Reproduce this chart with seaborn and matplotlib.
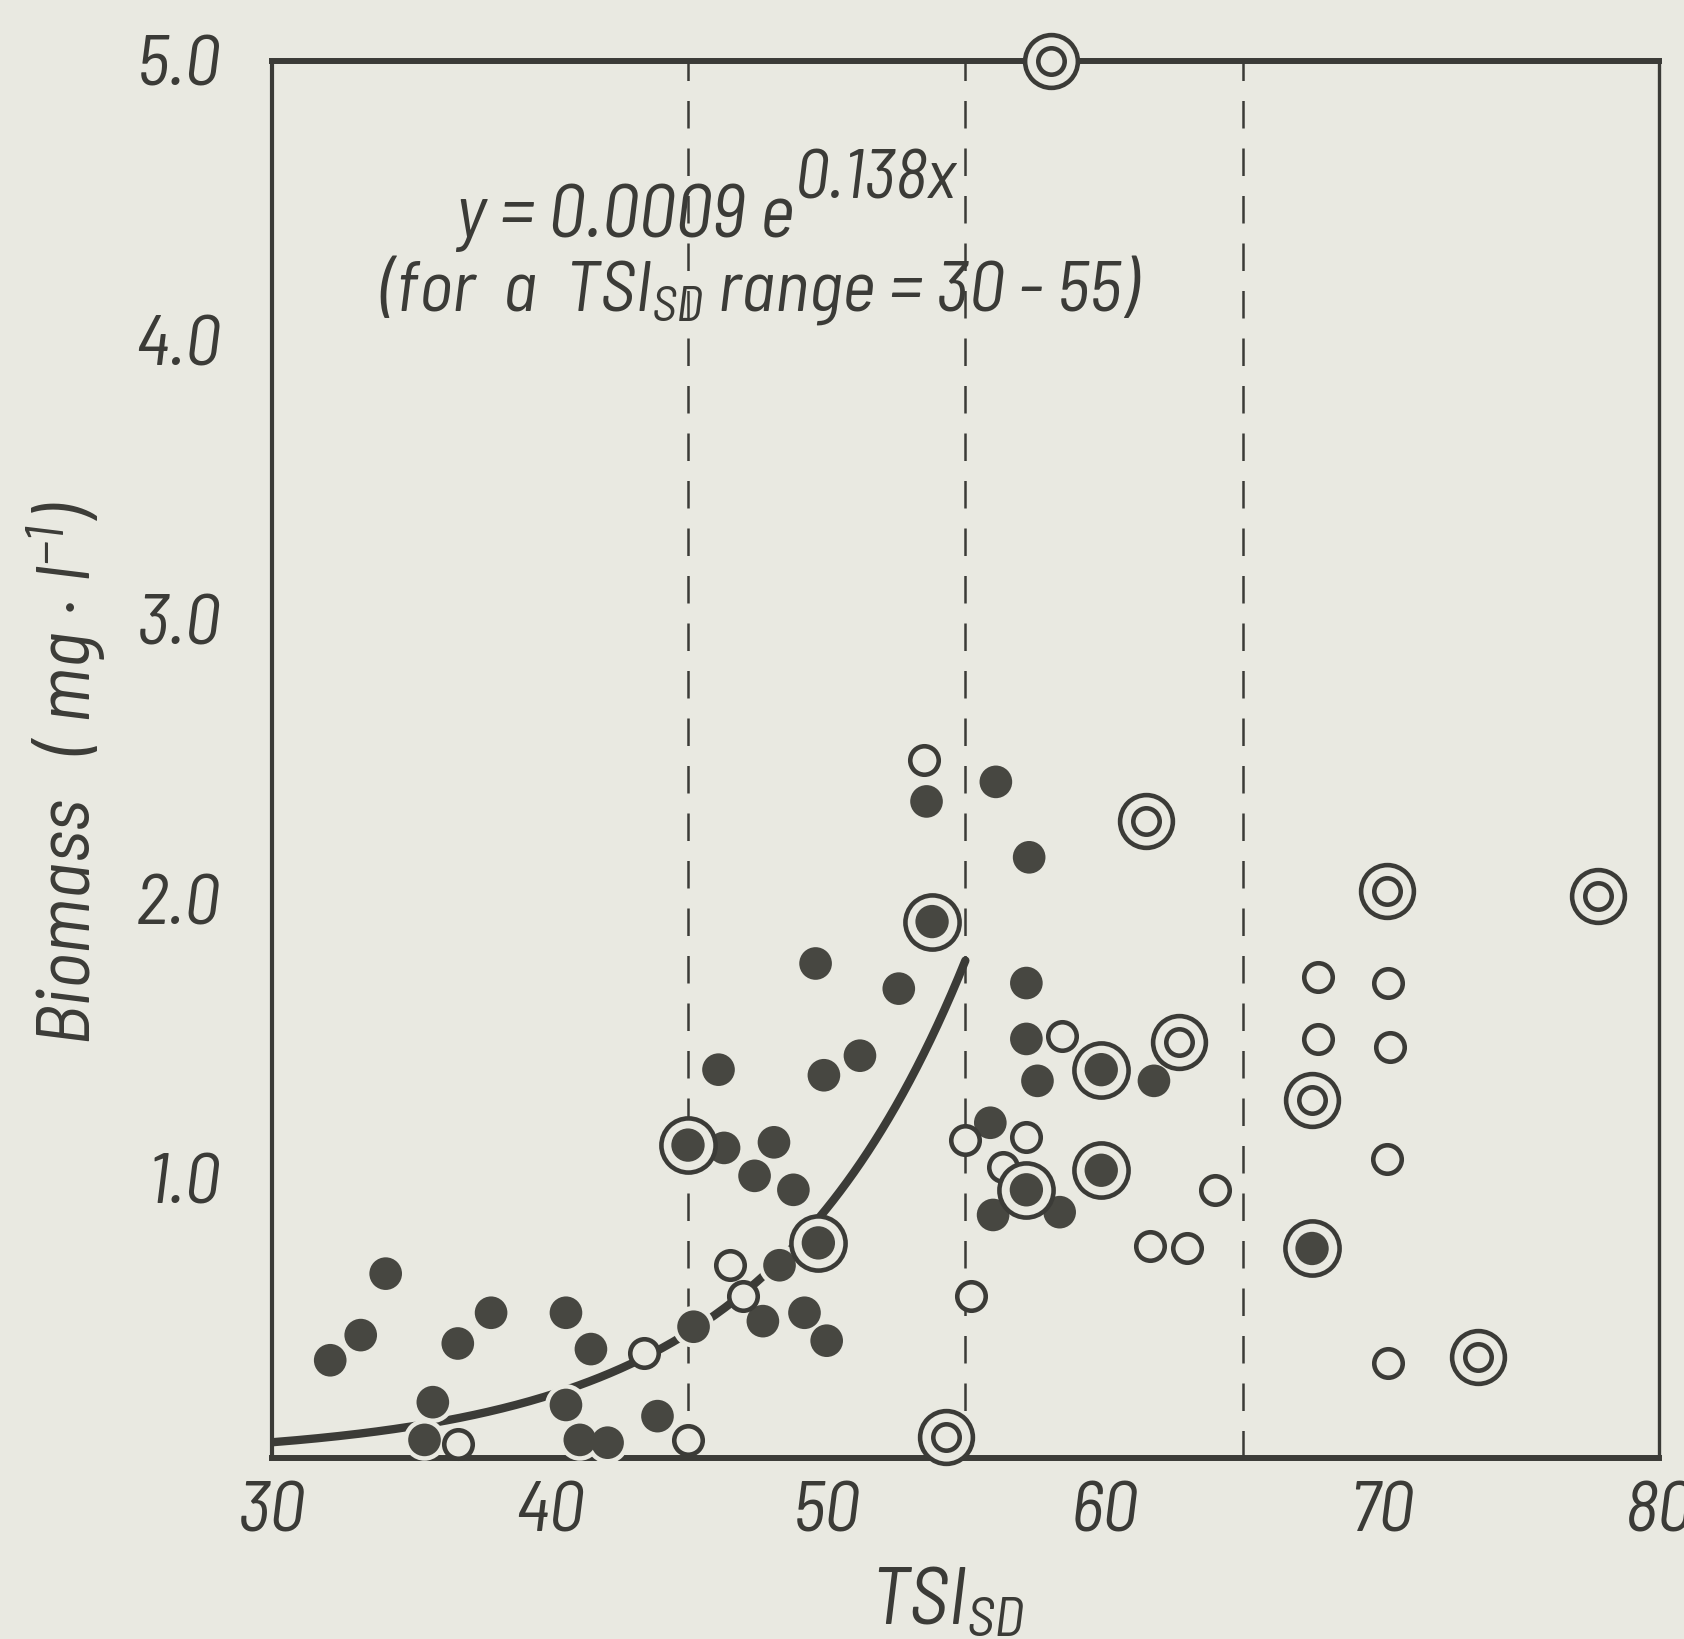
import numpy as np
import pandas as pd
import matplotlib
matplotlib.use("Agg")
import matplotlib.pyplot as plt
import seaborn as sns
from matplotlib import font_manager

# ---------------- data ----------------
filled_x = [32.1, 33.2, 34.1, 35.8, 35.5, 36.7, 37.9, 40.6, 40.6, 41.5, 41.1, 42.1, 43.9,
            45.2, 46.1, 46.3, 47.4, 48.1, 48.8, 47.7, 48.3, 49.2, 50.0, 49.6, 49.9, 51.2,
            52.6, 53.6, 56.1, 57.3, 57.2, 57.2, 57.6, 55.9, 56.0, 58.4, 61.8]
filled_y = [0.35, 0.44, 0.66, 0.20, 0.065, 0.41, 0.52, 0.52, 0.19, 0.39, 0.065, 0.055, 0.15,
            0.47, 1.39, 1.11, 1.01, 1.13, 0.96, 0.49, 0.69, 0.52, 0.42, 1.77, 1.37, 1.44,
            1.68, 2.35, 2.42, 2.15, 1.70, 1.50, 1.35, 1.20, 0.87, 0.88, 1.35]

open_x = [36.7, 43.4, 45.0, 46.5, 47.0, 53.5, 55.0, 55.2, 56.35, 57.2, 58.5, 61.65,
          63.0, 64.0, 67.7, 67.7, 70.25, 70.3, 70.2, 70.25]
open_y = [0.05, 0.375, 0.065, 0.69, 0.58, 2.50, 1.14, 0.58, 1.04, 1.15, 1.51, 0.76,
          0.75, 0.96, 1.72, 1.50, 1.70, 1.47, 1.07, 0.34]

double_open_x = [58.1, 54.3, 61.5, 62.7, 67.5, 70.2, 77.8, 73.5]
double_open_y = [5.0, 0.075, 2.28, 1.49, 1.28, 2.03, 2.01, 0.36]

double_filled_x = [45.0, 49.7, 53.8, 57.2, 59.9, 59.9, 67.5]
double_filled_y = [1.12, 0.77, 1.92, 0.96, 1.39, 1.03, 0.75]

# fitted curve y = a * exp(b x), valid for TSI 30-55
fit_a = 0.0009
fit_b = 0.138
fit_range = (30, 55)

divider_x = [45, 55, 65]

x_ticks = [30, 40, 50, 60, 70, 80]
x_ticklabels = ["30", "40", "50", "60", "70", "80"]
y_ticks = [1, 2, 3, 4, 5]
y_ticklabels = ["1.0", "2.0", "3.0", "4.0", "5.0"]

# ---------------- style ----------------
PAPER = "#e9e9e1"
INK = "#3b3b37"
DOT = "#474741"

sns.set_theme(style="white")
italic_fams = {f.name for f in font_manager.fontManager.ttflist if f.style == "italic"}
FONT = "DejaVu Sans"
for cand in ["Barlow Semi Condensed", "Roboto Condensed", "Archivo Narrow", "PT Sans Narrow",
             "Barlow Condensed", "Saira Condensed", "Liberation Sans Narrow"]:
    if cand in italic_fams:
        FONT = cand
        break
plt.rcParams["font.family"] = [FONT, "DejaVu Sans"]
plt.rcParams["mathtext.fontset"] = "custom"
plt.rcParams["mathtext.rm"] = FONT + ":italic"
plt.rcParams["mathtext.it"] = FONT + ":italic"
plt.rcParams["mathtext.bf"] = FONT + ":italic"

fig = plt.figure(figsize=(16.84, 16.39), dpi=100, facecolor=PAPER)
ax = fig.add_axes([0.1615, 0.1104, 0.8235, 0.8524])
ax.set_facecolor(PAPER)

# dashed dividers
for xv in divider_x:
    ax.axvline(xv, color=INK, lw=1.8, ls=(0, (11, 8)), zorder=1)

# fitted curve
cx = np.linspace(fit_range[0], fit_range[1], 200)
curve = pd.DataFrame({"x": cx, "y": fit_a * np.exp(fit_b * cx)})
sns.lineplot(data=curve, x="x", y="y", ax=ax, color=INK, linewidth=6.0, zorder=2)

df_f = pd.DataFrame({"x": filled_x, "y": filled_y})
df_o = pd.DataFrame({"x": open_x, "y": open_y})
df_do = pd.DataFrame({"x": double_open_x, "y": double_open_y})
df_df = pd.DataFrame({"x": double_filled_x, "y": double_filled_y})

# white halos for filled dots
sns.scatterplot(data=df_f, x="x", y="y", ax=ax, s=30**2, color=PAPER,
                edgecolor="none", linewidth=0, zorder=3, clip_on=False)
sns.scatterplot(data=df_f, x="x", y="y", ax=ax, s=23.5**2, color=DOT,
                edgecolor="none", linewidth=0, zorder=4, clip_on=False)

# open circles
sns.scatterplot(data=df_o, x="x", y="y", ax=ax, s=20.5**2, color=PAPER,
                edgecolor=INK, linewidth=3.3, zorder=5, clip_on=False)

# double open circles
sns.scatterplot(data=df_do, x="x", y="y", ax=ax, s=38**2, color=PAPER,
                edgecolor=INK, linewidth=3.3, zorder=5, clip_on=False)
sns.scatterplot(data=df_do, x="x", y="y", ax=ax, s=19**2, color=PAPER,
                edgecolor=INK, linewidth=3.3, zorder=6, clip_on=False)

# double circles with filled centre
sns.scatterplot(data=df_df, x="x", y="y", ax=ax, s=39**2, color=PAPER,
                edgecolor=INK, linewidth=3.3, zorder=5, clip_on=False)
sns.scatterplot(data=df_df, x="x", y="y", ax=ax, s=24**2, color=DOT,
                edgecolor="none", linewidth=0, zorder=6, clip_on=False)

ax.set_xlim(30, 80)
ax.set_ylim(0, 5)
ax.set_xticks(x_ticks)
ax.set_xticklabels(x_ticklabels)
ax.set_yticks(y_ticks)
ax.set_yticklabels(y_ticklabels)
ax.tick_params(axis="both", direction="out", length=17, width=2.4, color=INK,
               labelcolor=INK, labelsize=52)
ax.tick_params(axis="x", pad=0)
ax.tick_params(axis="y", pad=20)
for lab in ax.get_xticklabels() + ax.get_yticklabels():
    lab.set_fontstyle("italic")

for side, lw in [("top", 4.3), ("bottom", 4.3), ("left", 3.0), ("right", 2.4)]:
    ax.spines[side].set_visible(True)
    ax.spines[side].set_color(INK)
    ax.spines[side].set_linewidth(lw)

ax.set_xlabel(r"$TSI_{SD}$", fontsize=58, color=INK)
ax.xaxis.set_label_coords(0.487, -0.104)
ax.xaxis.label.set_va("center")
ax.set_ylabel(r"Biomass   ( mg $\cdot$ l$^{-1}$)", fontsize=55, color=INK,
              fontstyle="italic")
ax.yaxis.set_label_coords(-0.148, 0.49)
ax.yaxis.label.set_va("center")

# equation annotation
ax.text(36.6, 4.37, "y = 0.0009 e", fontsize=54, fontstyle="italic", color=INK,
        ha="left", va="baseline")
ax.text(48.85, 4.57, "0.138x", fontsize=50, fontstyle="italic", color=INK,
        ha="left", va="center")
ax.text(47.6, 4.18, r"(for  a  $TSI_{SD}$ range = 30 - 55)", fontsize=52,
        color=INK, ha="center", va="center", fontstyle="italic")

fig.savefig("out.png", dpi=100, facecolor=PAPER)
